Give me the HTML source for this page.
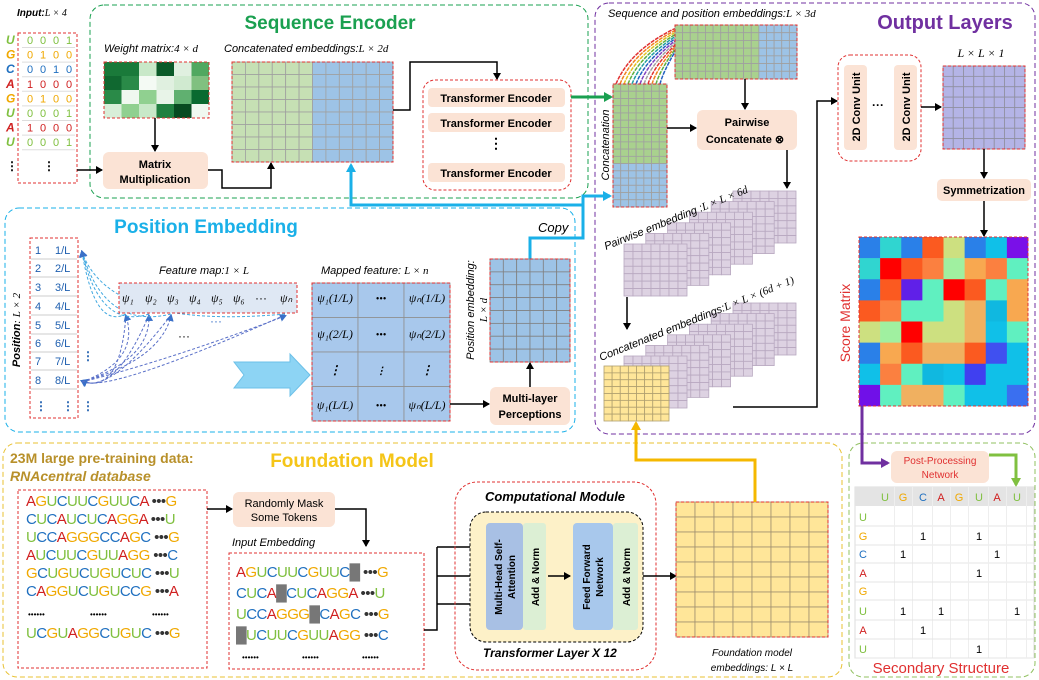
<!DOCTYPE html>
<html><head><meta charset="utf-8"><style>
html,body{margin:0;padding:0;background:#fff;}
svg{display:block;font-family:"Liberation Sans",sans-serif;}
</style></head><body>
<svg id="s" width="1039" height="680" viewBox="0 0 1039 680">
<defs>
<marker id="ab" markerWidth="8" markerHeight="8" refX="6" refY="4" orient="auto" markerUnits="userSpaceOnUse"><path d="M0,0 L7,4 L0,8 z" fill="#000"/></marker>
<marker id="ag" markerWidth="10" markerHeight="10" refX="7" refY="5" orient="auto" markerUnits="userSpaceOnUse"><path d="M0,0 L9,5 L0,10 z" fill="#1aa050"/></marker>
<marker id="ac" markerWidth="10" markerHeight="10" refX="7" refY="5" orient="auto" markerUnits="userSpaceOnUse"><path d="M0,0 L9,5 L0,10 z" fill="#1ab0e8"/></marker>
<marker id="ay" markerWidth="10" markerHeight="10" refX="7" refY="5" orient="auto" markerUnits="userSpaceOnUse"><path d="M0,0 L9,5 L0,10 z" fill="#f5b800"/></marker>
<marker id="ap" markerWidth="10" markerHeight="10" refX="7" refY="5" orient="auto" markerUnits="userSpaceOnUse"><path d="M0,0 L9,5 L0,10 z" fill="#7030a0"/></marker>
<marker id="al" markerWidth="10" markerHeight="10" refX="7" refY="5" orient="auto" markerUnits="userSpaceOnUse"><path d="M0,0 L9,5 L0,10 z" fill="#80c040"/></marker>
<marker id="ad" markerWidth="8" markerHeight="8" refX="5" refY="4" orient="auto" markerUnits="userSpaceOnUse"><path d="M0,0 L7,4 L0,8 z" fill="#3a70c8"/></marker>
</defs>

<!-- Section boxes -->
<rect x="90" y="5" width="498" height="193" rx="14" fill="none" stroke="#1aa050" stroke-dasharray="5,3"/>
<text x="330" y="29" text-anchor="middle" font-size="19" font-weight="bold" fill="#1aa050">Sequence Encoder</text>
<rect x="5" y="208" width="570" height="224" rx="14" fill="none" stroke="#1ab0e8" stroke-dasharray="5,3"/>
<text x="206" y="233" text-anchor="middle" font-size="19" font-weight="bold" fill="#1ab0e8">Position Embedding</text>
<rect x="595" y="3" width="440" height="431" rx="14" fill="none" stroke="#7030a0" stroke-dasharray="5,3"/>
<text x="945" y="29" text-anchor="middle" font-size="20" font-weight="bold" fill="#7030a0">Output Layers</text>
<rect x="3" y="443" width="839" height="234" rx="14" fill="none" stroke="#e8c030" stroke-dasharray="5,3"/>
<text x="352" y="467" text-anchor="middle" font-size="19" font-weight="bold" fill="#f5c518">Foundation Model</text>
<rect x="849" y="443" width="186" height="234" rx="14" fill="none" stroke="#90c060" stroke-dasharray="5,3"/>

<!-- Input -->
<text x="17" y="16" font-size="10" font-style="italic" font-weight="bold">Input:<tspan font-weight="normal" font-family="Liberation Serif">L × 4</tspan></text>
<rect x="18" y="33" width="59" height="150" fill="none" stroke="#e03030" stroke-dasharray="3,2"/>
<g id="inputRows"></g>

<!-- Weight matrix -->
<text x="104" y="52" font-size="11" font-style="italic">Weight matrix:<tspan font-family="Liberation Serif">4 × d</tspan></text>
<g id="weight"></g>
<rect x="104" y="62" width="105" height="56" fill="none" stroke="#e03030" stroke-dasharray="3,2"/>
<line x1="155" y1="118" x2="155" y2="151" stroke="#000" stroke-width="1.5" marker-end="url(#ab)"/>
<rect x="103" y="152" width="105" height="37" rx="6" fill="#fbe3d5"/>
<text x="155" y="168" text-anchor="middle" font-size="11" font-weight="bold">Matrix</text>
<text x="155" y="183" text-anchor="middle" font-size="11" font-weight="bold">Multiplication</text>
<line x1="77" y1="170" x2="102" y2="170" stroke="#000" stroke-width="1.5" marker-end="url(#ab)"/>
<polyline points="208,170 222,170 222,188 271,188 271,163" fill="none" stroke="#000" stroke-width="1.5" marker-end="url(#ab)"/>

<!-- Concat embeddings -->
<text x="224" y="52" font-size="11" font-style="italic">Concatenated embeddings:<tspan font-family="Liberation Serif">L × 2d</tspan></text>
<g id="concat"></g>
<polyline points="393,110 410,110 410,62 497,62 497,79" fill="none" stroke="#000" stroke-width="1.5" marker-end="url(#ab)"/>

<!-- Transformer encoders -->
<rect x="423" y="80" width="148" height="110" rx="12" fill="none" stroke="#e03030" stroke-dasharray="3,2"/>
<rect x="428" y="88" width="137" height="19" rx="4" fill="#fbe3d5"/>
<text x="496" y="102" text-anchor="middle" font-size="11" font-weight="bold">Transformer Encoder</text>
<rect x="428" y="113" width="137" height="19" rx="4" fill="#fbe3d5"/>
<text x="496" y="127" text-anchor="middle" font-size="11" font-weight="bold">Transformer Encoder</text>
<text x="496" y="148" text-anchor="middle" font-size="14" font-weight="bold">⋮</text>
<rect x="428" y="163" width="137" height="19" rx="4" fill="#fbe3d5"/>
<text x="496" y="177" text-anchor="middle" font-size="11" font-weight="bold">Transformer Encoder</text>
<line x1="571" y1="97" x2="611" y2="97" stroke="#1aa050" stroke-width="3" marker-end="url(#ag)"/>

<!-- Copy line -->
<polyline points="530,259 530,238 583,238 583,196 610,196" fill="none" stroke="#1ab0e8" stroke-width="3" marker-end="url(#ac)"/>
<polyline points="583,205 351,205 351,165" fill="none" stroke="#1ab0e8" stroke-width="3" marker-end="url(#ac)"/>
<text x="538" y="232" font-size="13" font-style="italic">Copy</text>

<!-- Position embedding -->
<text transform="translate(20,330) rotate(-90)" text-anchor="middle" font-size="11" font-style="italic" font-weight="bold">Position<tspan font-weight="normal" font-family="Liberation Serif">: L × 2</tspan></text>
<rect x="30" y="238" width="48" height="180" fill="#fff" stroke="#e03030" stroke-dasharray="3,2"/>
<g id="posRows"></g>
<g id="curves"></g>
<text x="159" y="274" font-size="11" font-style="italic">Feature map:<tspan font-family="Liberation Serif">1 × L</tspan></text>
<rect x="119" y="283" width="178" height="30" fill="#dfe8f4" stroke="#e03030" stroke-dasharray="3,2"/>
<g id="psi"></g>
<text x="210" y="325" font-size="12" fill="#3a70c8">···</text>
<text x="178" y="340" font-size="12">···</text>
<path d="M234,362 L290,362 L290,354 L310,375 L290,396 L290,388 L234,388 L244,375 z" fill="#8dd4f4" stroke="#6cc0e8"/>
<text x="321" y="274" font-size="11" font-style="italic">Mapped feature: <tspan font-family="Liberation Serif">L × n</tspan></text>
<g id="mapped"></g>
<text transform="translate(474,310) rotate(-90)" text-anchor="middle" font-size="11" font-style="italic">Position embedding:</text>
<text transform="translate(487,310) rotate(-90)" text-anchor="middle" font-size="11" font-style="italic" font-family="Liberation Serif">L × d</text>
<g id="posemb"></g>
<rect x="490" y="387" width="80" height="38" rx="6" fill="#fbe3d5"/>
<text x="530" y="402" text-anchor="middle" font-size="11" font-weight="bold">Multi-layer</text>
<text x="530" y="418" text-anchor="middle" font-size="11" font-weight="bold">Perceptions</text>
<line x1="450" y1="404" x2="489" y2="404" stroke="#000" stroke-width="1.5" marker-end="url(#ab)"/>
<line x1="530" y1="387" x2="530" y2="363" stroke="#000" stroke-width="1.5" marker-end="url(#ab)"/>

<!-- Output layers -->
<text x="608" y="17" font-size="11" font-style="italic">Sequence and position embeddings:<tspan font-family="Liberation Serif">L × 3d</tspan></text>
<g id="fan"></g>
<g id="seqpos"></g>
<g id="concatcol"></g>
<text transform="translate(609,145) rotate(-90)" text-anchor="middle" font-size="11" font-style="italic">Concatenation</text>
<line x1="745" y1="79" x2="745" y2="109" stroke="#000" stroke-width="1.5" marker-end="url(#ab)"/>
<line x1="667" y1="128" x2="696" y2="128" stroke="#000" stroke-width="1.5" marker-end="url(#ab)"/>
<rect x="697" y="110" width="100" height="40" rx="6" fill="#fbe3d5"/>
<text x="747" y="126" text-anchor="middle" font-size="11" font-weight="bold">Pairwise</text>
<text x="745" y="143" text-anchor="middle" font-size="11" font-weight="bold">Concatenate ⊗</text>
<line x1="787" y1="150" x2="787" y2="188" stroke="#000" stroke-width="1.5" marker-end="url(#ab)"/>
<g id="stack1"></g>
<text transform="translate(606,250) rotate(-22)" font-size="11" font-style="italic">Pairwise embedding :<tspan font-family="Liberation Serif">L × L × 6d</tspan></text>
<line x1="627" y1="297" x2="627" y2="329" stroke="#000" stroke-width="1.5" marker-end="url(#ab)"/>
<g id="stack2"></g>
<text transform="translate(601,361) rotate(-22)" font-size="11" font-style="italic">Concatenated embeddings:<tspan font-family="Liberation Serif">L × L × (6d + 1)</tspan></text>
<g id="yellowgrid"></g>
<polyline points="733,407 817,407 817,101 837,101" fill="none" stroke="#000" stroke-width="1.5" marker-end="url(#ab)"/>
<rect x="838" y="55" width="83" height="106" rx="12" fill="none" stroke="#e03030" stroke-dasharray="3,2"/>
<rect x="844" y="65" width="23" height="85" rx="4" fill="#fbe3d5"/>
<text transform="translate(860,107) rotate(-90)" text-anchor="middle" font-size="11" font-weight="bold">2D Conv Unit</text>
<text x="872" y="109" font-size="12" font-weight="bold">···</text>
<rect x="894" y="65" width="23" height="85" rx="4" fill="#fbe3d5"/>
<text transform="translate(910,107) rotate(-90)" text-anchor="middle" font-size="11" font-weight="bold">2D Conv Unit</text>
<line x1="921" y1="107" x2="941" y2="107" stroke="#000" stroke-width="1.5" marker-end="url(#ab)"/>
<text x="981" y="57" text-anchor="middle" font-size="12" font-style="italic" font-family="Liberation Serif">L × L × 1</text>
<g id="purplegrid"></g>
<line x1="984" y1="149" x2="984" y2="178" stroke="#000" stroke-width="1.5" marker-end="url(#ab)"/>
<rect x="937" y="179" width="94" height="22" rx="5" fill="#fbe3d5"/>
<text x="984" y="194" text-anchor="middle" font-size="11" font-weight="bold">Symmetrization</text>
<line x1="984" y1="201" x2="984" y2="236" stroke="#000" stroke-width="1.5" marker-end="url(#ab)"/>
<g id="score"></g>
<text transform="translate(850,323) rotate(-90)" text-anchor="middle" font-size="14" fill="#e03030">Score Matrix</text>
<polyline points="862,406 862,463 888,463" fill="none" stroke="#7030a0" stroke-width="3" marker-end="url(#ap)"/>

<!-- Foundation model -->
<text x="10" y="463" font-size="14" font-weight="bold" fill="#b8902a">23M large pre-training data:</text>
<text x="10" y="481" font-size="14" font-weight="bold" font-style="italic" fill="#b8902a">RNAcentral database</text>
<rect x="18" y="490" width="189" height="178" fill="none" stroke="#e03030" stroke-dasharray="3,2"/>
<g id="seqs"></g>
<line x1="207" y1="509" x2="232" y2="509" stroke="#000" stroke-width="1.5" marker-end="url(#ab)"/>
<rect x="233" y="492" width="102" height="35" rx="6" fill="#fbe3d5"/>
<text x="284" y="507" text-anchor="middle" font-size="11">Randomly Mask</text>
<text x="284" y="521" text-anchor="middle" font-size="11">Some Tokens</text>
<polyline points="335,509 366,509 366,546" fill="none" stroke="#000" stroke-width="1.5" marker-end="url(#ab)"/>
<text x="232" y="546" font-size="11" font-style="italic">Input  Embedding</text>
<rect x="229" y="553" width="195" height="116" fill="none" stroke="#e03030" stroke-dasharray="3,2"/>
<g id="masked"></g>
<polyline points="424,630 437,630 437,547" fill="none" stroke="#000" stroke-width="1.5"/>
<line x1="437" y1="547" x2="482" y2="547" stroke="#000" stroke-width="1.5" marker-end="url(#ab)"/>
<line x1="437" y1="576" x2="482" y2="576" stroke="#000" stroke-width="1.5" marker-end="url(#ab)"/>
<line x1="437" y1="604" x2="482" y2="604" stroke="#000" stroke-width="1.5" marker-end="url(#ab)"/>
<rect x="455" y="482" width="201" height="188" rx="22" fill="none" stroke="#e03030" stroke-dasharray="3,2"/>
<text x="555" y="501" text-anchor="middle" font-size="13" font-weight="bold" font-style="italic">Computational Module</text>
<rect x="470" y="512" width="173" height="130" rx="16" fill="#fdf1c8" stroke="#000" stroke-dasharray="3,2"/>
<rect x="486" y="523" width="37" height="107" rx="4" fill="#a8c0e4"/>
<text transform="translate(502,577) rotate(-90)" text-anchor="middle" font-size="10" font-weight="bold">Multi-Head Self-</text>
<text transform="translate(515,577) rotate(-90)" text-anchor="middle" font-size="10" font-weight="bold">Attention</text>
<rect x="523" y="523" width="23" height="107" rx="3" fill="#dcefd4"/>
<text transform="translate(539,577) rotate(-90)" text-anchor="middle" font-size="10" font-weight="bold">Add  &amp;  Norm</text>
<line x1="548" y1="576" x2="570" y2="576" stroke="#000" stroke-width="1.5" marker-end="url(#ab)"/>
<rect x="573" y="523" width="40" height="107" rx="4" fill="#a8c8ec"/>
<text transform="translate(590,577) rotate(-90)" text-anchor="middle" font-size="10" font-weight="bold">Feed Forward</text>
<text transform="translate(603,577) rotate(-90)" text-anchor="middle" font-size="10" font-weight="bold">Network</text>
<rect x="613" y="523" width="25" height="107" rx="3" fill="#dcefd4"/>
<text transform="translate(630,577) rotate(-90)" text-anchor="middle" font-size="10" font-weight="bold">Add  &amp;  Norm</text>
<text x="483" y="657" font-size="12" font-weight="bold" font-style="italic">Transformer  Layer    X 12</text>
<line x1="643" y1="576" x2="676" y2="576" stroke="#000" stroke-width="1.5" marker-end="url(#ab)"/>
<g id="fgrid"></g>
<text x="752" y="656" text-anchor="middle" font-size="10" font-style="italic">Foundation model</text>
<text x="752" y="671" text-anchor="middle" font-size="10" font-style="italic">embeddings: L × L</text>
<polyline points="755,502 755,460 636,460 636,423" fill="none" stroke="#f5b800" stroke-width="3" marker-end="url(#ay)"/>

<!-- Secondary structure -->
<rect x="891" y="451" width="98" height="32" rx="6" fill="#fbe3d5"/>
<text x="940" y="464" text-anchor="middle" font-size="10" fill="#e03030">Post-Processing</text>
<text x="940" y="478" text-anchor="middle" font-size="10" fill="#e03030">Network</text>
<polyline points="989,455 1016,455 1016,485" fill="none" stroke="#80c040" stroke-width="3" marker-end="url(#al)"/>
<g id="sstable"></g>
<text x="941" y="673" text-anchor="middle" font-size="15" fill="#e03030">Secondary Structure</text>
</svg>

<script>
const NS="http://www.w3.org/2000/svg";
// ---- data arrays ----
const inputLetters=["U","G","C","A","G","U","A","U"];
const inputOneHot=[[0,0,0,1],[0,1,0,0],[0,0,1,0],[1,0,0,0],[0,1,0,0],[0,0,0,1],[1,0,0,0],[0,0,0,1]];
const weightColors=[
["#1a7a3a","#1a7a3a","#c8e8c8","#0a5a28","#e0f0e0","#50a860"],
["#106830","#2a8a48","#f4faf4","#e0f0e0","#d0ead0","#80c080"],
["#2a8a48","#f0f8f0","#90d090","#e8f4e8","#60b070","#0a6a30"],
["#d8eed8","#90d090","#c8e8c8","#208040","#084a20","#f0f8f0"]];
const scoreColors=[
["#2a80e8","#30d5d0","#2a80e8","#fb5a20","#cde080","#2a80e8","#10c0e8","#7a10e8"],
["#30d5d0","#ff0000","#fb5a20","#fb8040","#a0f0a0","#f8a850","#fb8040","#60f0c0"],
["#2a80e8","#fb5a20","#6020e8","#60f0c0","#ff0000","#fb5a20","#60f0c0","#f8a850"],
["#fb5a20","#fb8040","#60f0c0","#60f0c0","#cde080","#f0b060","#10b8e0","#f8a850"],
["#cde080","#a0f0a0","#ff0000","#cde080","#cde080","#f0b060","#10c0e8","#60f0c0"],
["#2a80e8","#f8a850","#fb5a20","#f0b060","#f0b060","#fb5a20","#4050f0","#10c0e8"],
["#10c0e8","#fb8040","#60f0c0","#10b8e0","#10c0e8","#4040f0","#10c0e8","#10c0e8"],
["#7010e8","#60f0c0","#f0b060","#f0b060","#60f0c0","#10c0e8","#10c0e8","#3a6ff0"]];
const rawSeqs=[["AGUCUUCGUUCA","G"],["CUCAUCUCAGGA","U"],["UCCAGGGCCAGC","G"],["AUCUUCGUUAGG","C"],["GCUGUCUGUCUC","U"],["CAGGUCUGUCCG","A"],null,["UCGUAGGCUGUC","G"]];
const maskedSeqs=[["AGUCUUCGUUC_","G"],["CUCA_CUCAGGA","U"],["UCCAGGG_CAGC","G"],["_UCUUCGUUAGG","C"]];
const ssHeader=["U","G","C","A","G","U","A","U"];
const ssPairs=[[],[2,5],[1,6],[5],[],[1,3,7],[2],[5]];
const nucColor={A:"#d02020",G:"#f0a800",C:"#2070c0",U:"#80c040"};

function el(tag,attrs,parent,txt){const e=document.createElementNS(NS,tag);for(const k in attrs)e.setAttribute(k,attrs[k]);if(txt!==undefined)e.textContent=txt;parent.appendChild(e);return e;}
const G=id=>document.getElementById(id);

function grid(parent,x,y,w,h,cols,rows,fillFn,stroke,name,border){
  const g=el("g",{},parent);
  
  
  const cw=w/cols,ch=h/rows;
  for(let r=0;r<rows;r++)for(let c=0;c<cols;c++){
    el("rect",{x:x+c*cw,y:y+r*ch,width:cw,height:ch,fill:fillFn(r,c),stroke:stroke,"stroke-width":0.8},g);
  }
  if(border)el("rect",{x:x,y:y,width:w,height:h,fill:"none",stroke:"#e03030","stroke-dasharray":"3,2"},g);
  return g;
}

// input rows
inputLetters.forEach((L,i)=>{
  const y=44+i*14.6;
  const t=el("text",{x:6,y:y,"font-size":12,"font-weight":"bold","font-style":"italic",fill:nucColor[L]},G("inputRows"),L);
  
  
  inputOneHot[i].forEach((v,j)=>{
    el("text",{x:27+j*13,y:y,"font-size":11,fill:nucColor[L]},G("inputRows"),String(v));
  });
  el("line",{x1:22,x2:75,y1:y+3.5,y2:y+3.5,stroke:"#ddd"},G("inputRows"));
});
el("text",{x:6,y:170,"font-size":12,"font-weight":"bold"},G("inputRows"),"⋮");
el("text",{x:43,y:170,"font-size":12,"font-weight":"bold"},G("inputRows"),"⋮");

// weight heatmap
grid(G("weight"),104,62,105,56,6,4,(r,c)=>weightColors[r][c],"none","weight-matrix-heatmap",false);
// concat embeddings
grid(G("concat"),232,62,161,100,12,8,(r,c)=>c<6?"#c6e0b4":"#9dc3e6","#a0a0a0","concatenated-embeddings-grid",true);

// position table
const pr=[250,268,287,306,325,343,361,380];
pr.forEach((y,i)=>{
  el("text",{x:35,y:y+4,"font-size":11,fill:"#2060b0"},G("posRows"),String(i+1));
  el("text",{x:55,y:y+4,"font-size":11,fill:"#2060b0"},G("posRows"),(i+1)+"/L");
  el("line",{x1:31,x2:77,y1:y+9,y2:y+9,stroke:"#ccc"},G("posRows"));
});
el("text",{x:35,y:410,"font-size":12,fill:"#2060b0","font-weight":"bold"},G("posRows"),"⋮");
el("text",{x:62,y:410,"font-size":12,fill:"#2060b0","font-weight":"bold"},G("posRows"),"⋮");
el("text",{x:82,y:410,"font-size":12,fill:"#2060b0","font-weight":"bold"},G("posRows"),"⋮");
el("text",{x:82,y:360,"font-size":12,fill:"#2060b0","font-weight":"bold"},G("posRows"),"⋮");

// psi labels
const psiX=[126,149,171,193,215,237];
psiX.forEach((x,i)=>{el("text",{x:x-4,y:302,"font-size":12,"font-style":"italic","font-family":"Liberation Serif"},G("psi"),"ψ"+"₁₂₃₄₅₆"[i]);});
el("text",{x:255,y:302,"font-size":12},G("psi"),"···");
el("text",{x:280,y:302,"font-size":12,"font-style":"italic","font-family":"Liberation Serif"},G("psi"),"ψₙ");
// dashed curves
const tg=[126,149,171,285];
tg.forEach((x,i)=>{
  el("path",{d:`M${x},315 Q${120-i*5},${395} 82,381`,fill:"none",stroke:"#5a70c8","stroke-dasharray":"3,2","marker-end":"url(#ad)"},G("curves"));
  el("path",{d:`M82,382 Q${140+i*10},${360} ${x},316`,fill:"none",stroke:"#5a70c8","stroke-dasharray":"3,2","marker-end":"url(#ad)"},G("curves"));
  el("path",{d:`M${x},314 Q${95+i*5},${330} 82,252`,fill:"none",stroke:"#40a8e0","stroke-dasharray":"3,2","marker-end":"url(#ad)"},G("curves"));
});

// mapped feature
const mg=G("mapped");
grid(mg,312,283,138,138,3,4,()=>"#a8c8ec","#909090","mapped-feature-grid",true);
const mrows=[[302,"ψ₁(1/L)","•••","ψₙ(1/L)"],[338,"ψ₁(2/L)","•••","ψₙ(2/L)"],[374,"⋮","⋮","⋮"],[409,"ψ₁(L/L)","•••","ψₙ(L/L)"]];
mrows.forEach(r=>{[335,381,427].forEach((x,i)=>el("text",{x:x,y:r[0],"text-anchor":"middle","font-size":i==1?10:12,"font-style":"italic","font-family":"Liberation Serif","font-weight":r[1]=="⋮"?"bold":"normal"},mg,r[i+1]));});

// position embedding grid
grid(G("posemb"),490,259,80,103,6,8,()=>"#9dc3e6","#808080","position-embedding-grid",true);

// fan lines
const fanColors=["#e03030","#f08020","#e0c020","#60b040","#20a0a0","#2060c0","#8040c0","#a0a0a0","#e03030","#f08020","#60b040","#2060c0"];
fanColors.forEach((c,i)=>{
  el("path",{d:`M${616+i*4},84 Q${630+i*3},${50+i*2} 676,${28+i*2}`,fill:"none",stroke:c,"stroke-width":1.5,"stroke-dasharray":"4,1"},G("fan"));
});
grid(G("seqpos"),675,25,122,54,16,7,(r,c)=>c<11?"#a9d18e":"#9dc3e6","#a0a0a0","seq-pos-embeddings-grid",true);
grid(G("concatcol"),613,84,54,123,7,17,(r,c)=>r<11?"#a9d18e":"#9dc3e6","#a0a0a0","concatenation-column",true);

function stack(parent,fx,fy,name){
  const g=el("g",{},parent);
  
  
  for(let i=5;i>=0;i--){grid(g,fx+i*21.8,fy-i*10.6,63,52,7,7,()=>"#ddd2e2","#b8a8c0","stack-slice",false);}
}
stack(G("stack1"),624,244,"pairwise-embedding-stack");
stack(G("stack2"),624,356,"concatenated-embedding-stack");
grid(G("yellowgrid"),604,366,65,55,8,8,()=>"#ffe699","#b0a070","foundation-embedding-input-grid",false);
grid(G("purplegrid"),943,66,82,83,8,8,()=>"#b4b4e6","#9090a0","llx1-grid",true);

// score matrix
const sg=G("score");
const sx=859,sy=237,cs=169/8;
scoreColors.forEach((row,r)=>row.forEach((c,ci)=>{
  const rc=el("rect",{x:sx+ci*cs,y:sy+r*cs,width:cs+0.3,height:cs+0.3,fill:c},sg);
  
  
}));
el("rect",{x:sx,y:sy,width:169,height:169,fill:"none",stroke:"#e03030","stroke-dasharray":"3,2"},sg);

// foundation grid
grid(G("fgrid"),676,502,152,135,8,9,()=>"#ffe699","#a09070","foundation-embeddings-grid",true);

// sequences
function seqLine(parent,x,y,s,last,size,name){
  const t=el("text",{x:x,y:y,"font-size":size,"font-family":"Liberation Sans Narrow, Liberation Sans, sans-serif","letter-spacing":"-0.6"},parent);
  
  
  for(const ch of s){
    if(ch==="_"){el("tspan",{fill:"#777"},t,"█");}
    else el("tspan",{fill:nucColor[ch]},t,ch);
  }
  el("tspan",{fill:"#333"},t," •••");
  el("tspan",{fill:nucColor[last]},t,last);
}
const sy0=[506,524,542,560,578,596,0,638];
rawSeqs.forEach((s,i)=>{
  if(!s){["••••••","••••••","••••••"].forEach((d,j)=>el("text",{x:28+j*62,y:617,"font-size":8},G("seqs"),d));return;}
  seqLine(G("seqs"),26,sy0[i],s[0],s[1],15,"raw-sequence");
});
const my=[577,598,619,640];
maskedSeqs.forEach((s,i)=>seqLine(G("masked"),236,my[i],s[0],s[1],15,"masked-sequence"));
["••••••","••••••","••••••"].forEach((d,j)=>el("text",{x:242+j*60,y:660,"font-size":8},G("masked"),d));

// secondary structure table
const tg2=G("sstable");
el("rect",{x:855,y:487,width:179,height:171,fill:"#fff",stroke:"#ddd"},tg2);
el("rect",{x:855,y:487,width:179,height:19,fill:"#e4e4e4"},tg2);
const colX=[885,903,923,941,959,979,997,1017];
const rowY=[517,536,554,573,591,611,630,649];
ssHeader.forEach((L,i)=>{
  el("text",{x:colX[i],y:501,"text-anchor":"middle","font-size":11,fill:nucColor[L]},tg2,L);
  el("text",{x:863,y:rowY[i]+4,"text-anchor":"middle","font-size":11,fill:nucColor[L]},tg2,L);
  el("line",{x1:855,x2:1034,y1:rowY[i]+9,y2:rowY[i]+9,stroke:"#e4e4e4"},tg2);
  el("line",{x1:colX[i]+9.5,x2:colX[i]+9.5,y1:487,y2:658,stroke:"#eee"},tg2);
});
ssPairs.forEach((cols,r)=>cols.forEach(c=>{
  const t=el("text",{x:colX[c],y:rowY[r]+4,"text-anchor":"middle","font-size":11},tg2,"1");
  
  
}));
</script>
</body></html>
